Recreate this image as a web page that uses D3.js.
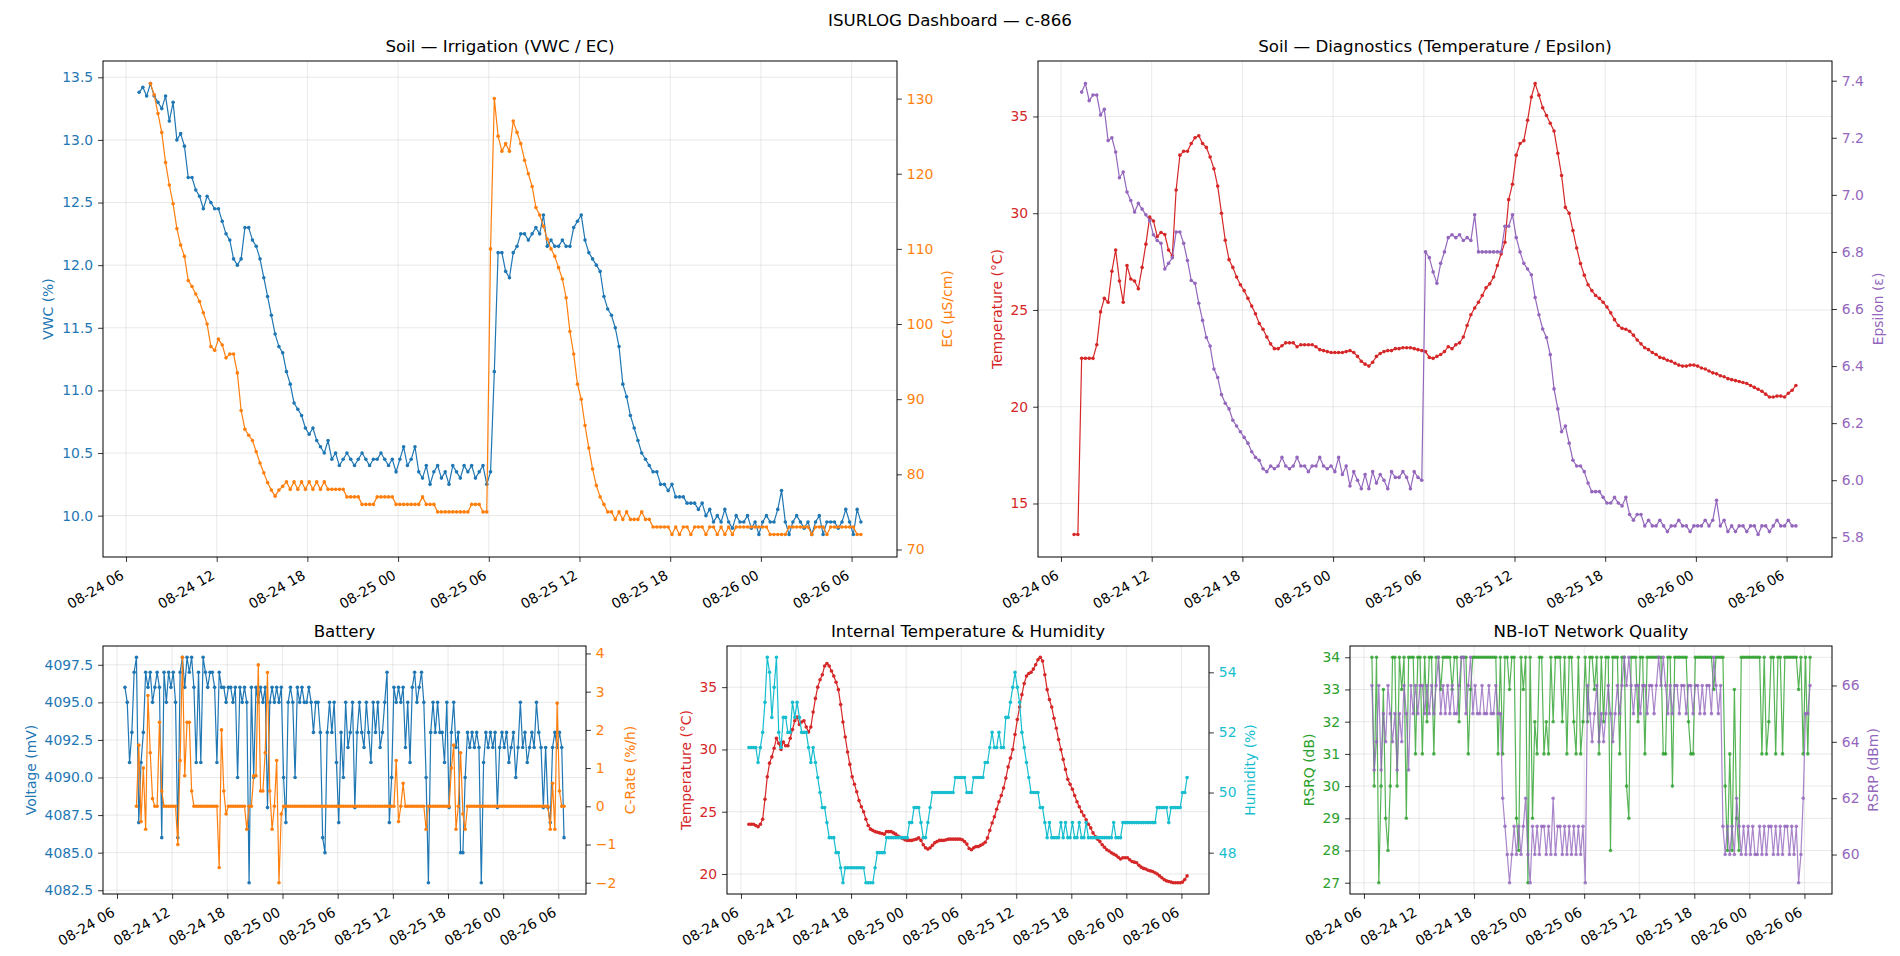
<!DOCTYPE html>
<html>

<head>
    <meta charset="UTF-8">
    <style>
        body { margin: 0; background: #fff; }
        svg { display: block; font-family: "DejaVu Sans", sans-serif; }
    </style>
</head>

<body>
    <svg></svg>
    <script src="https://d3js.org/d3.v7.min.js"></script>
    <script>
        // readings every 15 min; each series has its own first timestamp
        const STEP = 15;
        const mainStart = "2025-08-24 06:52";
        const ecStart = "2025-08-24 07:37";
        const epsStart = "2025-08-24 07:22";
        const crateStart = "2025-08-24 08:07";

        const xTicks = ["2025-08-24 06:00", "2025-08-24 12:00", "2025-08-24 18:00", "2025-08-25 00:00",
            "2025-08-25 06:00", "2025-08-25 12:00", "2025-08-25 18:00", "2025-08-26 00:00", "2025-08-26 06:00"];

        const vwcTicks = [10.0, 10.5, 11.0, 11.5, 12.0, 12.5, 13.0, 13.5];
        const ecTicks = [70, 80, 90, 100, 110, 120, 130];
        const soilTempTicks = [15, 20, 25, 30, 35];
        const epsTicks = [5.8, 6.0, 6.2, 6.4, 6.6, 6.8, 7.0, 7.2, 7.4];
        const voltTicks = [4082.5, 4085, 4087.5, 4090, 4092.5, 4095, 4097.5];
        const crateTicks = [-2, -1, 0, 1, 2, 3, 4];
        const intTempTicks = [20, 25, 30, 35];
        const humTicks = [48, 50, 52, 54];
        const rsrqTicks = [27, 28, 29, 30, 31, 32, 33, 34];
        const rsrpTicks = [60, 62, 64, 66];

        const vwc = [
            13.38, 13.42, 13.35, 13.45, 13.35, 13.3, 13.25, 13.35,
            13.15, 13.3, 13.0, 13.05, 12.95, 12.7, 12.7, 12.6,
            12.55, 12.45, 12.55, 12.5, 12.45, 12.45, 12.35, 12.25,
            12.2, 12.05, 12.0, 12.05, 12.3, 12.3, 12.2, 12.15,
            12.05, 11.9, 11.75, 11.6, 11.45, 11.35, 11.3, 11.15,
            11.05, 10.9, 10.85, 10.8, 10.7, 10.65, 10.7, 10.6,
            10.55, 10.5, 10.6, 10.45, 10.5, 10.4, 10.45, 10.5,
            10.45, 10.4, 10.45, 10.5, 10.45, 10.4, 10.45, 10.45,
            10.5, 10.45, 10.4, 10.45, 10.35, 10.45, 10.55, 10.4,
            10.45, 10.55, 10.35, 10.3, 10.4, 10.25, 10.35, 10.4,
            10.3, 10.35, 10.25, 10.4, 10.35, 10.3, 10.4, 10.35,
            10.4, 10.3, 10.35, 10.4, 10.25, 10.35, 11.15, 12.1,
            12.1, 11.95, 11.9, 12.1, 12.15, 12.25, 12.25, 12.2,
            12.25, 12.3, 12.25, 12.4, 12.15, 12.2, 12.15, 12.15,
            12.2, 12.15, 12.15, 12.3, 12.35, 12.4, 12.2, 12.1,
            12.05, 12.0, 11.95, 11.75, 11.65, 11.6, 11.5, 11.35,
            11.05, 10.95, 10.8, 10.7, 10.6, 10.5, 10.45, 10.4,
            10.35, 10.35, 10.25, 10.25, 10.2, 10.25, 10.15, 10.15,
            10.15, 10.1, 10.1, 10.1, 10.05, 10.1, 10.0, 10.05,
            9.95, 10.0, 9.95, 10.05, 9.95, 9.9, 10.0, 9.95,
            9.95, 10.0, 9.9, 9.95, 9.85, 9.95, 10.0, 9.95,
            9.95, 10.05, 10.2, 9.95, 9.85, 9.95, 10.0, 9.95,
            9.9, 9.95, 9.85, 9.95, 10.0, 9.85, 9.95, 9.95,
            9.95, 9.9, 9.95, 10.05, 9.95, 9.85, 10.05, 9.95
        ];

        const ec = [
            132, 130.5, 128, 125.5, 121.5, 118.5, 116, 112.7,
            110.5, 109, 105.8, 105, 104, 103, 101.5, 100,
            97, 96.5, 98, 97.2, 95.5, 96, 96, 93.5,
            88.5, 86, 85.2, 84.5, 83, 81.5, 80.2, 78.9,
            77.9, 77.1, 77.9, 78.4, 79, 78, 79, 78,
            79, 78, 79, 78, 79, 78, 79, 78,
            78, 78, 78, 78, 77, 77, 77, 77,
            76, 76, 76, 76, 77, 77, 77, 77,
            77, 76, 76, 76, 76, 76, 76, 76,
            77, 76, 76, 76, 75, 75, 75, 75,
            75, 75, 75, 75, 75, 76, 76, 76,
            75, 75, 110, 130, 125, 123, 124, 123,
            127, 125.5, 124, 121.8, 120, 118.3, 115.5, 114.5,
            113, 111.3, 110, 109, 107.5, 106, 103.5, 99,
            96, 92, 90, 86.5, 83.5, 80.7, 78.5, 77,
            76, 75, 75, 74, 75, 74, 75, 74,
            74, 74, 75, 74, 74, 73, 73, 73,
            73, 73, 72, 73, 72, 73, 73, 72,
            73, 73, 73, 72, 73, 73, 72, 73,
            72, 73, 72, 73, 73, 73, 73, 73,
            73, 73, 73, 73, 72, 72, 72, 72,
            72, 73, 73, 73, 73, 73, 73, 72,
            73, 73, 73, 72, 73, 73, 73, 73,
            73, 73, 73, 72, 72
        ];

        const soilTemp = [
            13.4, 13.4, 22.5, 22.5, 22.5, 22.5, 23.2, 24.9,
            25.6, 25.4, 27.0, 28.1, 26.5, 25.4, 27.3, 26.6,
            26.5, 26.1, 27.2, 28.4, 29.8, 29.6, 28.8, 29.0,
            28.9, 28.1, 27.8, 31.2, 33.0, 33.2, 33.2, 33.6,
            33.9, 34.0, 33.6, 33.4, 32.9, 32.3, 31.4, 30.0,
            28.6, 27.6, 27.2, 26.7, 26.3, 26.0, 25.6, 25.2,
            24.8, 24.3, 24.0, 23.6, 23.25, 23.0, 23.0, 23.15,
            23.3, 23.3, 23.3, 23.1, 23.2, 23.2, 23.2, 23.2,
            23.1, 22.95, 22.9, 22.85, 22.8, 22.8, 22.8, 22.8,
            22.85, 22.9, 22.8, 22.6, 22.35, 22.2, 22.1, 22.3,
            22.6, 22.75, 22.85, 22.9, 22.9, 23.0, 23.0, 23.05,
            23.05, 23.05, 23.0, 22.95, 22.9, 22.85, 22.55, 22.5,
            22.6, 22.7, 22.85, 23.1, 23.0, 23.2, 23.3, 23.6,
            24.2, 24.75, 25.1, 25.4, 25.75, 26.15, 26.35, 26.7,
            27.3, 27.9, 28.5, 30.7, 31.5, 33.0, 33.6, 33.75,
            34.8, 36.0, 36.7, 36.1, 35.45, 35.05, 34.65, 34.25,
            33.1, 31.95, 30.3, 30.0, 29.1, 28.2, 27.4, 26.8,
            26.3, 26.0, 25.75, 25.6, 25.4, 25.15, 24.85, 24.5,
            24.2, 24.05, 24.0, 23.9, 23.7, 23.45, 23.25, 23.05,
            22.95, 22.8, 22.7, 22.55, 22.5, 22.4, 22.35, 22.25,
            22.15, 22.1, 22.1, 22.15, 22.15, 22.1, 22.0, 21.95,
            21.85, 21.75, 21.7, 21.6, 21.55, 21.45, 21.4, 21.35,
            21.3, 21.25, 21.2, 21.1, 21.0, 20.9, 20.8, 20.65,
            20.5, 20.5, 20.55, 20.55, 20.5, 20.7, 20.85, 21.1
        ];

        const epsilon = [
            7.36, 7.39, 7.33, 7.35, 7.35, 7.28, 7.3, 7.19,
            7.2, 7.15, 7.06, 7.08, 7.01, 6.98, 6.94, 6.97,
            6.95, 6.93, 6.91, 6.86, 6.84, 6.83, 6.74, 6.76,
            6.78, 6.87, 6.87, 6.83, 6.77, 6.7, 6.69, 6.62,
            6.56, 6.5, 6.47, 6.39, 6.36, 6.3, 6.27, 6.25,
            6.21, 6.19, 6.17, 6.15, 6.13, 6.1, 6.08, 6.07,
            6.04, 6.03, 6.05, 6.04, 6.05, 6.08, 6.05, 6.04,
            6.05, 6.08, 6.05, 6.05, 6.03, 6.05, 6.05, 6.08,
            6.05, 6.04, 6.05, 6.03, 6.08, 6.02, 6.05, 5.98,
            6.03, 6.0, 5.97, 6.02, 5.97, 6.03, 5.99, 6.02,
            6.0, 5.97, 6.03, 6.01, 6.01, 6.03, 6.01, 5.97,
            6.03, 6.01, 6.0, 6.8, 6.78, 6.73, 6.69, 6.76,
            6.8, 6.85, 6.86, 6.85, 6.86, 6.84, 6.85, 6.84,
            6.93, 6.8, 6.8, 6.8, 6.8, 6.8, 6.8, 6.8,
            6.89, 6.89, 6.93, 6.85, 6.8, 6.76, 6.74, 6.72,
            6.64, 6.58, 6.53, 6.5, 6.44, 6.32, 6.25, 6.17,
            6.19, 6.13, 6.07, 6.05, 6.05, 6.03, 5.99, 5.96,
            5.96, 5.96, 5.94, 5.92, 5.92, 5.94, 5.92, 5.91,
            5.94, 5.88, 5.86, 5.88, 5.88, 5.84, 5.86, 5.84,
            5.84, 5.86, 5.84, 5.82, 5.84, 5.84, 5.86, 5.84,
            5.84, 5.82, 5.84, 5.84, 5.84, 5.86, 5.84, 5.86,
            5.93, 5.84, 5.86, 5.82, 5.84, 5.82, 5.84, 5.84,
            5.82, 5.84, 5.84, 5.81, 5.84, 5.84, 5.82, 5.84,
            5.86, 5.84, 5.84, 5.86, 5.84, 5.84
        ];

        const voltage = [
            4096, 4095, 4091, 4093, 4097, 4098, 4087, 4091,
            4093, 4097, 4096, 4097, 4095, 4096, 4097, 4096,
            4086, 4097, 4095, 4097, 4096, 4097, 4095, 4086,
            4097, 4098, 4096, 4098, 4097, 4098, 4096, 4091,
            4097, 4091, 4098, 4097, 4096, 4097, 4097, 4096,
            4091, 4097, 4096, 4096, 4095, 4096, 4096, 4095,
            4096, 4090, 4096, 4095, 4096, 4095, 4083, 4096,
            4090, 4096, 4095, 4096, 4095, 4096, 4088, 4095,
            4096, 4095, 4096, 4095, 4096, 4090, 4087, 4095,
            4096, 4095, 4090, 4096, 4095, 4096, 4095, 4095,
            4096, 4095, 4093, 4095, 4095, 4093, 4086, 4085,
            4093, 4095, 4093, 4095, 4091, 4087, 4093, 4090,
            4095, 4092, 4093, 4095, 4088, 4093, 4095, 4093,
            4092, 4095, 4093, 4091, 4095, 4093, 4095, 4092,
            4093, 4095, 4097, 4087, 4090, 4096, 4095, 4096,
            4095, 4096, 4092, 4095, 4091, 4096, 4097, 4095,
            4096, 4097, 4095, 4090, 4083, 4093, 4095, 4093,
            4095, 4093, 4093, 4091, 4095, 4088, 4093, 4095,
            4092, 4093, 4085, 4085, 4090, 4093, 4092, 4093,
            4092, 4093, 4092, 4083, 4091, 4093, 4092, 4093,
            4092, 4093, 4088, 4092, 4093, 4092, 4093, 4091,
            4092, 4093, 4090, 4092, 4095, 4092, 4093, 4091,
            4092, 4093, 4092, 4095, 4093, 4092, 4088, 4092,
            4088, 4087, 4092, 4093, 4092, 4093, 4092, 4086
        ];

        const cRate = [
            0, 1.6, -0.4, 1.0, -0.6, 2.9, 1.4, 0.2,
            0, 0, 2.2, 0.4, 0, 0, 0, 0,
            0, 0, -1.0, 1.2, 3.9, 0.8, 2.2, 2.2,
            0.4, 0, 0, 0, 0, 0, 0, 0,
            0, 0, 0, 0, -1.6, 2.0, 0.4, -0.2,
            0, 0, 0, 0, 0, 0, 0, 0,
            -0.6, 0, 0, 0.8, 0.8, 3.7, 0.4, 0.4,
            1.4, 3.5, 0.4, -0.6, 0, 1.2, -2.0, -0.2,
            0, 0, 0, 0, 0, 0, 0, 0,
            0, 0, 0, 0, 0, 0, 0, 0,
            0, 0, 0, 0, 0, 0, 0, 0,
            0, 0, 0, 0, 0, 0, 0, 0,
            0, 0, 0, 0, 0, 0, 0, 0,
            0, 0, 0, 0, 0, 0, 0, 0,
            0, 1.2, -0.4, 0, 0.6, 0, 0, 0,
            0, 0, 0, 0, 0, 0, -0.6, 0,
            0, 0, 0, 0, 0, 0, 0, 0,
            0, 1.0, 1.6, -0.6, 0, 1.4, -0.2, -0.6,
            0, 0, 0, 0, 0, 0, 0, 0,
            0, 0, 0, 0, 0, 0, 0, 0,
            0, 0, 0, 0, 0, 0, 0, 0,
            0, 0, 0, 0, 0, 0, 0, 0,
            0, 0, 0, 0, -0.6, 0.6, -0.6, 2.7,
            0.4, 0, 0
        ];

        const intTemp = [
            24.0, 24.0, 24.0, 23.9, 23.8, 24.0, 24.4, 26.0,
            27.8, 28.9, 29.4, 30.1, 30.9, 30.5, 30.0, 30.6,
            30.3, 30.3, 30.9, 31.6, 32.3, 32.6, 32.0, 32.2,
            32.3, 31.8, 31.4, 31.8, 33.0, 34.1, 35.0, 35.6,
            36.0, 36.7, 36.9, 36.7, 36.3, 35.9, 35.4, 34.8,
            33.6, 32.2, 31.0, 29.8, 28.8, 27.8, 27.2, 26.6,
            25.9, 25.4, 25.0, 24.4, 23.9, 23.6, 23.5, 23.4,
            23.35, 23.3, 23.25, 23.2, 23.4, 23.4, 23.4, 23.3,
            23.2, 23.05, 22.95, 22.85, 22.75, 22.7, 22.7, 22.7,
            22.75, 22.8, 22.9, 22.7, 22.35, 22.1, 22.0, 22.1,
            22.3, 22.5, 22.6, 22.7, 22.7, 22.7, 22.75, 22.8,
            22.8, 22.8, 22.8, 22.8, 22.8, 22.75, 22.6, 22.4,
            22.05, 21.95, 22.1, 22.2, 22.2, 22.3, 22.4, 22.55,
            22.9, 23.5, 24.1, 24.6, 25.2, 25.8, 26.3, 26.9,
            27.7, 28.6, 29.3, 30.0, 31.2, 32.4, 33.4, 34.4,
            35.3, 35.9, 36.1, 36.2, 36.45, 36.8, 37.2, 37.4,
            37.1, 36.0, 34.8, 34.0, 33.4, 32.5, 31.7, 30.8,
            30.0, 29.2, 28.4, 27.6, 27.2, 26.8, 26.3, 25.8,
            25.4, 25.0, 24.7, 24.35, 24.0, 23.7, 23.3, 23.0,
            22.8, 22.6, 22.35, 22.15, 21.95, 21.85, 21.7, 21.6,
            21.5, 21.35, 21.2, 21.3, 21.3, 21.3, 21.15, 21.0,
            20.95, 20.9, 20.7, 20.55, 20.45, 20.4, 20.3, 20.25,
            20.2, 20.1, 20.0, 19.85, 19.7, 19.55, 19.45, 19.4,
            19.35, 19.3, 19.3, 19.3, 19.3, 19.35, 19.55, 19.85
        ];

        const humidity = [
            51.5, 51.5, 51.5, 51.5, 51.0, 51.5, 52.0, 53.0,
            54.5, 54.0, 52.5, 53.5, 54.5, 52.0, 51.5, 52.5,
            52.5, 52.0, 52.0, 53.0, 52.5, 53.0, 52.5, 52.0,
            52.0, 52.0, 51.5, 51.0, 51.5, 51.0, 50.5, 50.0,
            49.5, 49.5, 49.0, 48.5, 48.5, 48.5, 48.0, 48.0,
            47.5, 47.0, 47.5, 47.5, 47.5, 47.5, 47.5, 47.5,
            47.5, 47.5, 47.5, 47.0, 47.0, 47.0, 47.0, 47.5,
            48.0, 48.0, 48.0, 48.0, 48.5, 48.5, 48.5, 48.5,
            48.5, 48.5, 48.5, 48.5, 48.5, 48.5, 49.0, 49.0,
            49.5, 49.5, 49.5, 49.0, 48.5, 48.5, 49.0, 49.5,
            50.0, 50.0, 50.0, 50.0, 50.0, 50.0, 50.0, 50.0,
            50.0, 50.0, 50.5, 50.5, 50.5, 50.5, 50.5, 50.0,
            50.0, 50.0, 50.5, 50.5, 50.5, 50.5, 50.5, 51.0,
            51.0, 51.5, 52.0, 51.5, 51.5, 52.0, 51.5, 51.5,
            52.5, 52.5, 53.0, 53.5, 54.0, 53.5, 53.0, 52.0,
            51.5, 51.0, 50.5, 50.0, 50.0, 50.0, 50.0, 49.5,
            49.5, 49.0, 48.5, 49.0, 48.5, 48.5, 48.5, 48.5,
            49.0, 48.5, 49.0, 48.5, 48.5, 49.0, 48.5, 48.5,
            49.0, 48.5, 48.5, 49.0, 48.5, 48.5, 48.5, 48.5,
            48.5, 48.5, 48.5, 48.5, 48.5, 48.5, 48.5, 49.0,
            48.5, 48.5, 48.5, 49.0, 49.0, 49.0, 49.0, 49.0,
            49.0, 49.0, 49.0, 49.0, 49.0, 49.0, 49.0, 49.0,
            49.0, 49.0, 49.5, 49.5, 49.5, 49.5, 49.5, 49.0,
            49.5, 49.5, 49.5, 49.5, 49.5, 50.0, 50.0, 50.5
        ];

        const rsrq = [
            34, 30, 34, 27, 30, 33, 29, 28,
            30, 34, 34, 30, 34, 33, 34, 29,
            34, 34, 34, 31, 34, 34, 31, 34,
            32, 34, 34, 31, 34, 34, 33, 34,
            34, 34, 34, 33, 34, 34, 32, 34,
            34, 34, 31, 33, 34, 34, 34, 34,
            34, 34, 34, 34, 34, 34, 34, 31,
            34, 31, 34, 34, 33, 34, 34, 29,
            28, 34, 33, 34, 27, 34, 29, 32,
            31, 34, 34, 31, 32, 31, 34, 32,
            34, 34, 34, 32, 34, 31, 34, 34,
            32, 31, 34, 31, 32, 34, 32, 34,
            34, 33, 34, 31, 34, 32, 34, 34,
            28, 34, 34, 34, 31, 34, 34, 30,
            29, 34, 34, 34, 32, 34, 34, 31,
            34, 34, 34, 34, 34, 34, 34, 31,
            31, 34, 34, 30, 34, 34, 34, 34,
            34, 34, 32, 31, 31, 34, 34, 34,
            34, 34, 34, 34, 34, 33, 34, 34,
            34, 34, 30, 28, 31, 28, 33, 29,
            28, 34, 34, 34, 34, 34, 34, 34,
            34, 34, 31, 34, 31, 32, 34, 34,
            31, 34, 34, 31, 34, 34, 34, 34,
            34, 34, 33, 34, 31, 34, 31, 34
        ];

        const rsrp = [
            66, 63, 64, 66, 63, 65, 64, 66,
            65, 64, 65, 63, 65, 64, 66, 65,
            63, 66, 65, 66, 65, 66, 66, 65,
            66, 65, 66, 65, 66, 67, 65, 66,
            65, 66, 65, 66, 65, 65, 66, 67,
            67, 65, 66, 67, 65, 66, 65, 65,
            66, 65, 65, 66, 65, 65, 66, 65,
            65, 62, 61, 60, 59, 60, 61, 60,
            61, 60, 61, 62, 60, 59, 61, 60,
            61, 60, 61, 61, 60, 61, 60, 62,
            60, 61, 61, 60, 61, 60, 61, 60,
            61, 60, 61, 60, 61, 59, 66, 65,
            64, 65, 66, 64, 65, 64, 65, 66,
            65, 64, 65, 66, 65, 66, 67, 66,
            67, 66, 65, 66, 66, 65, 66, 66,
            65, 66, 66, 65, 66, 67, 66, 67,
            66, 65, 66, 65, 66, 66, 65, 66,
            66, 65, 66, 66, 65, 66, 66, 65,
            66, 65, 66, 66, 65, 67, 66, 65,
            66, 61, 60, 61, 60, 61, 60, 62,
            61, 60, 61, 60, 61, 60, 61, 60,
            60, 61, 60, 61, 60, 61, 61, 60,
            61, 60, 61, 60, 61, 61, 60, 61,
            60, 61, 59, 60, 62, 65, 65, 66
        ];

        // ---- layout ----
        let width = 1900,
            height = 956;

        let svg = d3.select("svg")
            .attr("width", width)
            .attr("height", height);

        svg.append("rect").attr("width", width).attr("height", height).attr("fill", "#fff");

        const parse = d3.timeParse("%Y-%m-%d %H:%M");
        const tickFont = "13.9px";
        const blue = "#1f77b4", orange = "#ff7f0e", green = "#2ca02c",
            red = "#d62728", purple = "#9467bd", cyan = "#17becf";

        let panels = [
            {
                x: 103, y: 61, w: 794, h: 496, title: "Soil — Irrigation (VWC / EC)",
                left: { values: vwc, start: mainStart, color: blue, label: "VWC (%)", ticks: vwcTicks, fmt: d3.format(".1f") },
                right: { values: ec, start: ecStart, color: orange, label: "EC (µS/cm)", ticks: ecTicks, fmt: d3.format("d") }
            },
            {
                x: 1038, y: 61, w: 794, h: 496, title: "Soil — Diagnostics (Temperature / Epsilon)",
                left: { values: soilTemp, start: mainStart, color: red, label: "Temperature (°C)", ticks: soilTempTicks, fmt: d3.format("d") },
                right: { values: epsilon, start: epsStart, color: purple, label: "Epsilon (ε)", ticks: epsTicks, fmt: d3.format(".1f") }
            },
            {
                x: 103, y: 646, w: 483, h: 248, title: "Battery",
                left: { values: voltage, start: mainStart, color: blue, label: "Voltage (mV)", ticks: voltTicks, fmt: d3.format(".1f") },
                right: { values: cRate, start: crateStart, color: orange, label: "C-Rate (%/h)", ticks: crateTicks, fmt: d3.format("d") }
            },
            {
                x: 727, y: 646, w: 482, h: 248, title: "Internal Temperature & Humidity",
                left: { values: intTemp, start: mainStart, color: red, label: "Temperature (°C)", ticks: intTempTicks, fmt: d3.format("d") },
                right: { values: humidity, start: mainStart, color: cyan, label: "Humidity (%)", ticks: humTicks, fmt: d3.format("d") }
            },
            {
                x: 1350, y: 646, w: 482, h: 248, title: "NB-IoT Network Quality", alpha: 0.8,
                left: { values: rsrq, start: mainStart, color: green, label: "RSRQ (dB)", ticks: rsrqTicks, fmt: d3.format("d") },
                right: { values: rsrp, start: mainStart, color: purple, label: "RSRP (dBm)", ticks: rsrpTicks, fmt: d3.format("d") }
            }
        ];

        svg.append("text")
            .attr("x", width / 2)
            .attr("y", 26)
            .attr("text-anchor", "middle")
            .style("font-size", "16.67px")
            .text("ISURLOG Dashboard — c-866");

        function toPoints(s) {
            let t0 = parse(s.start);
            return s.values.map((v, i) => ({ t: d3.timeMinute.offset(t0, i * STEP), v: v }));
        }

        // matplotlib-like autoscale: data extent plus 5% each side
        function padded(ext) {
            let r = ext[1] - ext[0];
            return [ext[0] - 0.05 * r, ext[1] + 0.05 * r];
        }

        function styleAxis(sel, color) {
            sel.attr("font-family", null).attr("font-size", null);
            sel.select(".domain").remove();
            sel.selectAll(".tick line").attr("stroke", "#000").attr("stroke-width", 0.8);
            sel.selectAll(".tick text").attr("fill", color).style("font-size", tickFont);
        }

        function drawSeries(g, pts, x, y, color, alpha) {
            let line = d3.line().x(d => x(d.t)).y(d => y(d.v));
            g.append("path")
                .datum(pts)
                .attr("d", line)
                .attr("fill", "none")
                .attr("stroke", color)
                .attr("stroke-width", 1.2)
                .attr("opacity", alpha);
            g.append("g")
                .selectAll("circle")
                .data(pts)
                .enter()
                .append("circle")
                .attr("cx", d => x(d.t))
                .attr("cy", d => y(d.v))
                .attr("r", 1.8)
                .attr("fill", color)
                .attr("opacity", alpha);
        }

        function drawPanel(p) {
            let g = svg.append("g").attr("transform", `translate(${p.x},${p.y})`);
            let L = toPoints(p.left), R = toPoints(p.right);
            let alpha = p.alpha || 1;

            let tExt = padded(d3.extent(L.concat(R), d => +d.t));
            let x = d3.scaleTime().domain(tExt.map(d => new Date(d))).range([0, p.w]);
            let yL = d3.scaleLinear().domain(padded(d3.extent(L, d => d.v))).range([p.h, 0]);
            let yR = d3.scaleLinear().domain(padded(d3.extent(R, d => d.v))).range([p.h, 0]);
            let xTickDates = xTicks.map(parse);

            // grid
            let grid = g.append("g").attr("stroke", "#b0b0b0").attr("stroke-opacity", 0.35).attr("stroke-width", 0.8);
            grid.selectAll(".gx").data(xTickDates).enter().append("line")
                .attr("x1", d => x(d)).attr("x2", d => x(d)).attr("y1", 0).attr("y2", p.h);
            grid.selectAll(".gy").data(p.left.ticks).enter().append("line")
                .attr("x1", 0).attr("x2", p.w).attr("y1", d => yL(d)).attr("y2", d => yL(d));

            drawSeries(g, L, x, yL, p.left.color, alpha);
            drawSeries(g, R, x, yR, p.right.color, alpha);

            g.append("rect")
                .attr("width", p.w).attr("height", p.h)
                .attr("fill", "none").attr("stroke", "#000").attr("stroke-width", 1);

            // x axis with rotated labels
            let xa = g.append("g")
                .attr("transform", `translate(0,${p.h})`)
                .call(d3.axisBottom(x).tickValues(xTickDates).tickFormat(d3.timeFormat("%m-%d %H"))
                    .tickSize(4.9).tickPadding(4.9));
            styleAxis(xa, "#000");
            xa.selectAll(".tick text")
                .attr("y", 0)
                .attr("dy", "0.35em")
                .attr("text-anchor", "end")
                .attr("transform", "translate(-4,16.8) rotate(-30)");

            // left y axis
            let la = g.append("g")
                .call(d3.axisLeft(yL).tickValues(p.left.ticks).tickFormat(p.left.fmt).tickSize(4.9).tickPadding(4.9));
            styleAxis(la, p.left.color);
            let lb = la.node().getBBox();
            g.append("text")
                .attr("transform", `translate(${lb.x - 8.9},${p.h / 2}) rotate(-90)`)
                .attr("text-anchor", "middle")
                .attr("fill", p.left.color)
                .style("font-size", tickFont)
                .text(p.left.label);

            // right y axis
            let ra = g.append("g")
                .attr("transform", `translate(${p.w},0)`)
                .call(d3.axisRight(yR).tickValues(p.right.ticks).tickFormat(p.right.fmt).tickSize(4.9).tickPadding(4.9));
            styleAxis(ra, p.right.color);
            let rb = ra.node().getBBox();
            g.append("text")
                .attr("transform", `translate(${p.w + rb.x + rb.width + 18.5},${p.h / 2}) rotate(-90)`)
                .attr("text-anchor", "middle")
                .attr("fill", p.right.color)
                .style("font-size", tickFont)
                .text(p.right.label);

            g.append("text")
                .attr("x", p.w / 2)
                .attr("y", -9)
                .attr("text-anchor", "middle")
                .style("font-size", "16.67px")
                .text(p.title);
        }

        panels.forEach(drawPanel);
    </script>
</body>

</html>
